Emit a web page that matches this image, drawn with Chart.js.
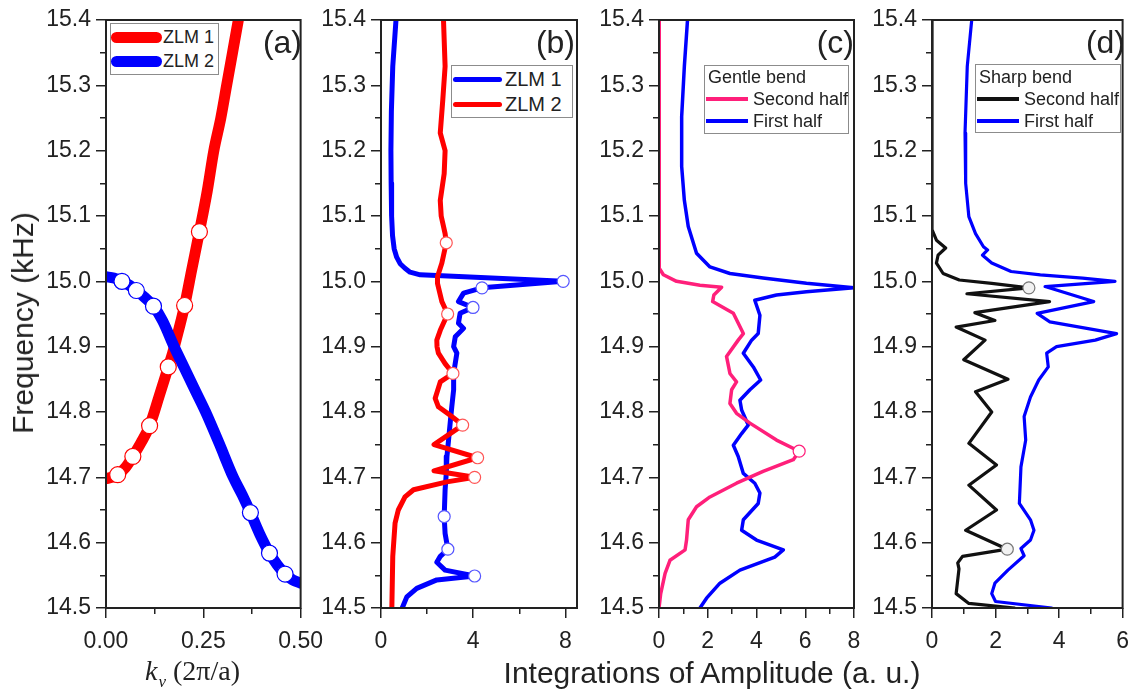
<!DOCTYPE html>
<html>
<head>
<meta charset="utf-8">
<title>Zero-line modes: dispersion and amplitude integrations</title>
<script src="https://cdn.jsdelivr.net/npm/chart.js@4.4.1/dist/chart.umd.min.js"></script>
<style>
  html, body { margin: 0; padding: 0; background: #fff; }
  #fig { position: relative; width: 1139px; height: 696px; overflow: hidden;
         font-family: "Liberation Sans", Arial, sans-serif; color: #222; }
  #fig canvas { position: absolute; top: 0; }
  .lbl { position: absolute; white-space: nowrap; line-height: 1; }
  .lgd-box { position: absolute; border: 1px solid #8c8c8c; background: #fff; box-sizing: border-box; }
  .lgd-line { position: absolute; }
</style>
</head>
<body>
<div id="fig"></div>
<script>
// ---------- axis ticks ----------
const freqTicks      = [14.5, 14.6, 14.7, 14.8, 14.9, 15.0, 15.1, 15.2, 15.3, 15.4];
const freqMinorTicks = [14.55, 14.65, 14.75, 14.85, 14.95, 15.05, 15.15, 15.25, 15.35];
const kTicks      = [0, 0.25, 0.5];
const kMinorTicks = [0.125, 0.375];
const ampTicksB = [0, 4, 8];       const ampMinorB = [2, 6];
const ampTicksC = [0, 2, 4, 6, 8]; const ampMinorC = [1, 3, 5, 7];
const ampTicksD = [0, 2, 4, 6];    const ampMinorD = [1, 3, 5];

// ---------- (a) dispersion of the two zero-line modes ----------
const aZlm1K = [0, 0.015, 0.03, 0.05, 0.069, 0.09, 0.112, 0.137, 0.16, 0.171, 0.18, 0.202, 0.22, 0.24, 0.26, 0.277, 0.295, 0.31, 0.325, 0.34];
const aZlm1F = [14.698, 14.700, 14.704, 14.715, 14.732, 14.753, 14.779, 14.825, 14.869, 14.89, 14.91, 14.963, 15.017, 15.076, 15.138, 15.2, 15.25, 15.3, 15.35, 15.4];
const aZlm2K = [0, 0.02, 0.041, 0.06, 0.078, 0.1, 0.122, 0.145, 0.175, 0.2, 0.23, 0.256, 0.29, 0.327, 0.35, 0.371, 0.395, 0.42, 0.44, 0.46, 0.48, 0.5];
const aZlm2F = [15.007, 15.005, 15.0, 14.994, 14.986, 14.975, 14.962, 14.94, 14.9, 14.869, 14.832, 14.8, 14.753, 14.7, 14.673, 14.646, 14.613, 14.584, 14.566, 14.552, 14.543, 14.538];
const aZlm1MarkK = [0.03, 0.069, 0.112, 0.16, 0.202, 0.24];
const aZlm1MarkF = [14.704, 14.732, 14.779, 14.869, 14.963, 15.076];
const aZlm2MarkK = [0.041, 0.078, 0.122, 0.371, 0.42, 0.46];
const aZlm2MarkF = [15.0, 14.986, 14.962, 14.646, 14.584, 14.552];

// ---------- (b) amplitude integrations of ZLM 1 / ZLM 2 ----------
const bZlm1Amp  = [0.65, 0.51, 0.45, 0.43, 0.44, 0.46, 0.5, 0.57, 0.68, 0.83, 1.04, 1.26, 1.7, 7.9, 4.38, 3.58, 3.36, 3.99, 3.43, 3.36, 3.58, 3.22, 3.15, 3.29, 3.15, 3.15, 3.07, 3.0, 2.93, 2.86, 2.83, 2.78, 2.74, 2.78, 2.9, 2.57, 2.42, 2.78, 4.06, 2.42, 1.55, 1.12, 0.92];
const bZlm1Freq = [15.4, 15.329, 15.26, 15.2, 15.15, 15.1, 15.07, 15.05, 15.037, 15.027, 15.02, 15.014, 15.01, 15.0, 14.99, 14.982, 14.969, 14.96, 14.951, 14.936, 14.928, 14.915, 14.9, 14.89, 14.859, 14.834, 14.808, 14.783, 14.757, 14.732, 14.706, 14.681, 14.64, 14.614, 14.59, 14.579, 14.57, 14.558, 14.549, 14.543, 14.53, 14.517, 14.5];
const bZlm2Amp  = [2.71, 2.78, 2.68, 2.57, 2.78, 2.74, 2.57, 2.61, 2.78, 2.83, 2.64, 2.45, 2.45, 2.64, 2.89, 2.57, 2.42, 2.43, 2.49, 2.78, 3.12, 2.57, 2.35, 2.49, 3.0, 3.54, 2.3, 4.19, 2.3, 4.06, 2.86, 1.41, 1.04, 0.75, 0.61, 0.51, 0.47];
const bZlm2Freq = [15.4, 15.329, 15.278, 15.227, 15.2, 15.165, 15.124, 15.1, 15.073, 15.059, 15.028, 15.007, 14.997, 14.969, 14.95, 14.925, 14.91, 14.9, 14.89, 14.874, 14.859, 14.846, 14.821, 14.808, 14.795, 14.78, 14.75, 14.73, 14.71, 14.70, 14.693, 14.681, 14.67, 14.65, 14.63, 14.579, 14.5];
const bZlm1MarkAmp  = [7.9, 4.38, 3.99, 2.74, 2.9, 4.06];
const bZlm1MarkFreq = [15.0, 14.99, 14.96, 14.64, 14.59, 14.549];
const bZlm2MarkAmp  = [2.83, 2.89, 3.12, 3.54, 4.19, 4.06];
const bZlm2MarkFreq = [15.059, 14.95, 14.859, 14.78, 14.73, 14.70];

// ---------- (c) gentle bend ----------
const cSecondAmp  = [0, 0, 0.02, 0.18, 0.72, 1.68, 2.57, 2.25, 2.2, 3.05, 3.46, 3.25, 2.77, 2.91, 3.18, 2.98, 2.91, 3.18, 3.73, 4.82, 5.75, 5.51, 4.27, 3.18, 2.09, 1.54, 1.2, 1.13, 1.07, 0.45, 0.25, 0.07, 0];
const cSecondFreq = [15.4, 15.03, 15.02, 15.01, 15.0, 14.994, 14.991, 14.979, 14.969, 14.951, 14.92, 14.91, 14.885, 14.859, 14.846, 14.834, 14.813, 14.798, 14.783, 14.757, 14.74, 14.727, 14.709, 14.691, 14.67, 14.655, 14.635, 14.604, 14.589, 14.573, 14.553, 14.522, 14.5];
const cFirstAmp   = [1.17, 1.04, 0.93, 0.93, 1.04, 1.2, 1.54, 2.09, 2.91, 4.27, 6.05, 8.0, 6.05, 4.82, 3.93, 4.14, 4.07, 3.8, 3.46, 3.87, 4.17, 3.73, 3.32, 3.39, 3.66, 3.39, 3.05, 3.25, 3.46, 3.93, 4.14, 4.07, 3.46, 3.39, 4.0, 5.1, 4.75, 3.32, 2.5, 1.95, 1.68];
const cFirstFreq  = [15.4, 15.329, 15.252, 15.176, 15.124, 15.084, 15.043, 15.022, 15.012, 15.005, 14.997, 14.99, 14.984, 14.979, 14.971, 14.948, 14.92, 14.91, 14.89, 14.869, 14.849, 14.834, 14.818, 14.803, 14.78, 14.767, 14.749, 14.732, 14.706, 14.691, 14.676, 14.66, 14.635, 14.619, 14.604, 14.589, 14.578, 14.558, 14.538, 14.515, 14.5];
const cSecondMarkAmp  = [5.75];
const cSecondMarkFreq = [14.74];

// ---------- (d) sharp bend ----------
const dSecondAmp  = [0, 0, 0.14, 0.43, 0.19, 0.14, 0.35, 0.86, 1.88, 3.05, 1.1, 3.7, 1.35, 1.98, 0.76, 1.67, 1.0, 2.39, 1.37, 1.88, 1.16, 2.03, 1.16, 2.03, 1.06, 2.37, 0.96, 0.81, 0.85, 0.76, 1.16, 2.6];
const dSecondFreq = [15.4, 15.079, 15.063, 15.051, 15.04, 15.028, 15.012, 15.002, 14.997, 14.99, 14.981, 14.969, 14.952, 14.94, 14.93, 14.91, 14.88, 14.85, 14.831, 14.8, 14.752, 14.719, 14.688, 14.65, 14.619, 14.59, 14.579, 14.569, 14.56, 14.522, 14.507, 14.5];
const dFirstAmp   = [1.25, 1.11, 1.04, 1.06, 1.16, 1.37, 1.62, 1.75, 1.59, 1.88, 2.49, 3.41, 4.74, 5.76, 3.56, 5.09, 3.31, 3.71, 5.81, 5.14, 3.92, 3.61, 3.66, 3.36, 3.1, 2.9, 2.95, 2.8, 2.75, 3.1, 3.21, 3.1, 2.8, 2.9, 2.39, 1.98, 1.88, 2.0, 3.77];
const dFirstFreq  = [15.4, 15.329, 15.227, 15.15, 15.099, 15.073, 15.053, 15.048, 15.04, 15.028, 15.015, 15.01, 15.005, 15.0, 14.992, 14.969, 14.951, 14.938, 14.92, 14.91, 14.9, 14.89, 14.869, 14.849, 14.823, 14.793, 14.757, 14.716, 14.66, 14.635, 14.619, 14.604, 14.591, 14.58, 14.558, 14.538, 14.522, 14.51, 14.5];
const dSecondMarkAmp  = [3.05, 2.37];
const dSecondMarkFreq = [14.99, 14.59];

// ---------- styling ----------
const FONT = '"Liberation Sans", Arial, sans-serif';
const INK = '#222';
const RED = '#ff0000', BLUE = '#0000ff', PINK = '#ff1f7a', BLACK = '#111111';
const H = 696, PLOT_TOP = 20, PLOT_BOTTOM = 608;
const fig = document.getElementById('fig');

const pts = (xs, ys) => xs.map((x, i) => ({ x, y: ys[i] }));

function lineSet(label, xs, ys, color, width, smooth) {
  return {
    label, data: pts(xs, ys), borderColor: color, backgroundColor: color,
    borderWidth: width, pointRadius: 0, fill: false, tension: smooth ? 0.4 : 0,
    cubicInterpolationMode: smooth ? 'monotone' : 'default',
    borderJoinStyle: 'round', borderCapStyle: 'round'
  };
}
function markSet(xs, ys, edge, fill, r) {
  return {
    label: '', data: pts(xs, ys), showLine: false, pointRadius: r,
    pointBorderWidth: 1.2, pointBorderColor: edge, pointBackgroundColor: fill,
    borderColor: edge, backgroundColor: fill
  };
}

// closed box around each plot area
const frame = {
  id: 'frame',
  afterDatasetsDraw(chart) {
    const { ctx, chartArea: { left, top, right, bottom } } = chart;
    ctx.save();
    ctx.strokeStyle = INK;
    ctx.lineWidth = 2;
    ctx.strokeRect(left, top, right - left, bottom - top);
    ctx.restore();
  }
};

function panel(cfg) {
  const cv = document.createElement('canvas');
  cv.width = cfg.width; cv.height = H;
  cv.style.left = cfg.left + 'px';
  cv.style.width = cfg.width + 'px'; cv.style.height = H + 'px';
  fig.appendChild(cv);
  const tickFont = { family: FONT, size: 23 };
  const setTicks = list => scale => { scale.ticks = list.map(value => ({ value })); };
  const major = { drawOnChartArea: false, tickLength: 10, color: INK, lineWidth: 1.5 };
  const minor = { drawOnChartArea: false, tickLength: 6, color: INK, lineWidth: 1.5 };
  return new Chart(cv, {
    type: 'line',
    data: { datasets: cfg.datasets },
    options: {
      responsive: false, animation: false, devicePixelRatio: 1, events: [],
      layout: { padding: { top: PLOT_TOP, right: cfg.left + cfg.width - cfg.plotRight, bottom: 0, left: 0 } },
      plugins: { legend: { display: false }, tooltip: { enabled: false } },
      scales: {
        x: {
          type: 'linear', position: 'bottom', weight: 1, min: cfg.xMin, max: cfg.xMax,
          afterBuildTicks: setTicks(cfg.xTicks),
          afterFit: s => { s.height = H - PLOT_BOTTOM; },
          border: { display: false }, grid: major,
          ticks: { font: tickFont, color: INK, padding: 10, autoSkip: false, maxRotation: 0, callback: cfg.xFormat }
        },
        xMinor: {
          type: 'linear', position: 'bottom', weight: 0, min: cfg.xMin, max: cfg.xMax,
          afterBuildTicks: setTicks(cfg.xMinor),
          afterFit: s => { s.height = 0; },
          border: { display: false }, grid: minor, ticks: { display: false }
        },
        y: {
          type: 'linear', position: 'left', weight: 1, min: 14.5, max: 15.4,
          afterBuildTicks: setTicks(freqTicks),
          afterFit: s => { s.width = cfg.plotLeft - cfg.left; },
          border: { display: false }, grid: major,
          ticks: { font: tickFont, color: INK, padding: 5, autoSkip: false, callback: v => v.toFixed(1) }
        },
        yMinor: {
          type: 'linear', position: 'left', weight: 0, min: 14.5, max: 15.4,
          afterBuildTicks: setTicks(freqMinorTicks),
          afterFit: s => { s.width = 0; },
          border: { display: false }, grid: minor, ticks: { display: false }
        }
      }
    },
    plugins: [frame]
  });
}

function addText(text, css, cls) {
  const d = document.createElement('div');
  d.className = cls || 'lbl';
  d.textContent = text;
  Object.assign(d.style, css);
  fig.appendChild(d);
  return d;
}

function addLegend(box, datasets, opt) {
  const b = document.createElement('div');
  b.className = 'lgd-box';
  Object.assign(b.style, {
    left: box[0] + 'px', top: box[1] + 'px',
    width: (box[2] - box[0]) + 'px', height: (box[3] - box[1]) + 'px'
  });
  fig.appendChild(b);
  if (opt.title) {
    addText(opt.title, { left: opt.titleX + 'px', top: (opt.titleY - opt.size / 2) + 'px', fontSize: opt.size + 'px' });
  }
  datasets.forEach((ds, i) => {
    const y = opt.rowY[i];
    const sw = document.createElement('div');
    sw.className = 'lgd-line';
    Object.assign(sw.style, {
      left: opt.x0 + 'px', top: (y - opt.thick / 2) + 'px',
      width: (opt.x1 - opt.x0) + 'px', height: opt.thick + 'px',
      background: ds.borderColor, borderRadius: opt.round ? (opt.thick / 2) + 'px' : '0'
    });
    fig.appendChild(sw);
    addText(ds.label, { left: opt.textX + 'px', top: (y - opt.size / 2) + 'px', fontSize: opt.size + 'px' });
  });
}

// ---------- panel (a) ----------
const aRed  = lineSet('ZLM 1', aZlm1K, aZlm1F, RED, 11, true);
const aBlue = lineSet('ZLM 2', aZlm2K, aZlm2F, BLUE, 11, true);
panel({
  left: 0, width: 333, plotLeft: 106, plotRight: 303,
  xMin: 0, xMax: 0.5, xTicks: kTicks, xMinor: kMinorTicks, xFormat: v => v.toFixed(2),
  datasets: [
    markSet(aZlm1MarkK, aZlm1MarkF, RED, '#fff', 8),
    markSet(aZlm2MarkK, aZlm2MarkF, BLUE, '#fff', 8),
    aBlue, aRed
  ]
});

// ---------- panel (b) ----------
const bBlue = lineSet('ZLM 1', bZlm1Amp, bZlm1Freq, BLUE, 5, false);
const bRed  = lineSet('ZLM 2', bZlm2Amp, bZlm2Freq, RED, 5, false);
panel({
  left: 310, width: 297, plotLeft: 381, plotRight: 577,
  xMin: 0, xMax: 8.5, xTicks: ampTicksB, xMinor: ampMinorB, xFormat: v => String(v),
  datasets: [
    markSet(bZlm2MarkAmp, bZlm2MarkFreq, '#ff5555', '#fff', 6),
    markSet(bZlm1MarkAmp, bZlm1MarkFreq, '#5555ff', '#fff', 6),
    bRed, bBlue
  ]
});

// ---------- panel (c) ----------
const cPink = lineSet('Second half', cSecondAmp, cSecondFreq, PINK, 3.5, false);
const cBlue = lineSet('First half', cFirstAmp, cFirstFreq, BLUE, 3.5, false);
panel({
  left: 590, width: 294, plotLeft: 659, plotRight: 854,
  xMin: 0, xMax: 8, xTicks: ampTicksC, xMinor: ampMinorC, xFormat: v => String(v),
  datasets: [
    markSet(cSecondMarkAmp, cSecondMarkFreq, PINK, '#fff', 6),
    cPink, cBlue
  ]
});

// ---------- panel (d) ----------
const dBlack = lineSet('Second half', dSecondAmp, dSecondFreq, BLACK, 3.2, false);
const dBlue  = lineSet('First half', dFirstAmp, dFirstFreq, BLUE, 3.2, false);
panel({
  left: 866, width: 273, plotLeft: 932, plotRight: 1128,
  xMin: 0, xMax: 6, xTicks: ampTicksD, xMinor: ampMinorD, xFormat: v => String(v),
  datasets: [
    markSet(dSecondMarkAmp, dSecondMarkFreq, '#777', '#f2f2f2', 6),
    dBlack, dBlue
  ]
});

// ---------- legends ----------
addLegend([110, 23, 219, 75], [aRed, aBlue],
  { x0: 111, x1: 162, textX: 163, rowY: [37, 61], thick: 11, round: true, size: 18 });
addLegend([451, 65, 573, 118], [bBlue, bRed],
  { x0: 453, x1: 502, textX: 505, rowY: [79, 104], thick: 5, round: true, size: 20 });
addLegend([704, 65, 849, 134], [cPink, cBlue],
  { title: 'Gentle bend', titleX: 708, titleY: 77, x0: 706, x1: 748, textX: 753, rowY: [99, 121], thick: 4, round: false, size: 18 });
addLegend([975, 64, 1121, 133], [dBlack, dBlue],
  { title: 'Sharp bend', titleX: 979, titleY: 77, x0: 977, x1: 1019, textX: 1024, rowY: [99, 121], thick: 4, round: false, size: 18 });

// ---------- panel letters ----------
[['(a)', 302], ['(b)', 575], ['(c)', 854], ['(d)', 1125]].forEach(([t, r]) => {
  addText(t, { left: r + 'px', top: '26px', fontSize: '32px', transform: 'translateX(-100%)' });
});

// ---------- axis titles ----------
addText('Frequency (kHz)', {
  left: '23px', top: '323px', fontSize: '30px',
  transform: 'translate(-50%, -50%) rotate(-90deg)'
});
addText('Integrations of Amplitude (a. u.)', {
  left: '712px', top: '658px', fontSize: '30px', transform: 'translateX(-50%)'
});
const kTitle = document.createElement('div');
kTitle.className = 'lbl';
Object.assign(kTitle.style, { left: '145px', top: '657px', fontSize: '28px', fontFamily: '"Liberation Serif", "Times New Roman", serif' });
const kSym = document.createElement('span'); kSym.textContent = 'k'; kSym.style.fontStyle = 'italic';
const kSub = document.createElement('span'); kSub.textContent = 'v';
Object.assign(kSub.style, { fontStyle: 'italic', fontSize: '17px', position: 'relative', top: '7px', marginLeft: '1px' });
const kUnit = document.createElement('span'); kUnit.textContent = ' (2\u03c0/a)';
kTitle.append(kSym, kSub, kUnit);
fig.appendChild(kTitle);
</script>
</body>
</html>
